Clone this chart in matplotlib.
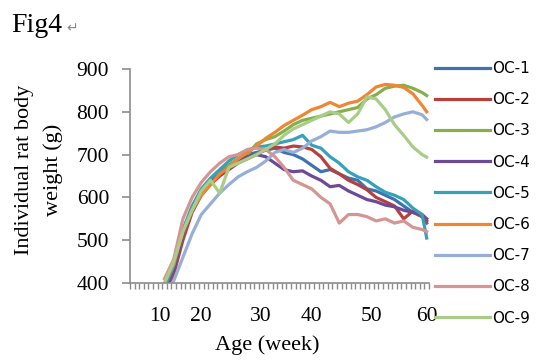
import numpy as np
import matplotlib
matplotlib.use('Agg')
import matplotlib.pyplot as plt

# category axis: 65 measurement slots, data recorded from slot 7 on
n_slots = 65
slots = list(range(7, 64, 2)) + [64]
age_slots = [6, 15, 28, 39, 52, 64]
age_labels = ['10', '20', '30', '40', '50', '60']

oc1 = [395, 440, 520, 575, 615, 640, 660, 675, 690, 700, 705, 710, 715, 705, 700,
       690, 675, 660, 665, 655, 645, 640, 620, 615, 605, 595, 580, 565, 555, 540]
oc2 = [380, 420, 500, 565, 605, 630, 650, 665, 680, 690, 700, 712, 718, 715, 720,
       718, 712, 695, 668, 655, 640, 630, 618, 600, 590, 580, 550, 568, 555, 545]
oc3 = [395, 440, 515, 570, 610, 635, 655, 675, 690, 700, 725, 735, 742, 755, 770,
       780, 785, 790, 795, 800, 805, 810, 830, 840, 855, 860, 862, 855, 845, 838]
oc4 = [385, 430, 515, 570, 610, 635, 655, 670, 685, 695, 700, 695, 680, 665, 660,
       662, 650, 640, 625, 628, 615, 605, 595, 590, 582, 578, 570, 565, 560, 550]
oc5 = [390, 440, 525, 580, 620, 645, 665, 685, 700, 710, 718, 720, 725, 730, 735,
       745, 722, 715, 695, 680, 660, 648, 640, 625, 612, 605, 595, 575, 560, 505]
oc6 = [400, 445, 520, 570, 605, 630, 655, 670, 690, 705, 720, 738, 752, 768, 780,
       792, 805, 812, 822, 812, 820, 825, 840, 858, 864, 862, 857, 842, 815, 800]
oc7 = [370, 405, 460, 515, 560, 585, 610, 630, 648, 660, 670, 685, 705, 712, 705,
       715, 732, 742, 755, 752, 752, 755, 758, 765, 775, 788, 795, 800, 793, 782]
oc8 = [410, 455, 550, 600, 635, 660, 680, 695, 700, 712, 715, 712, 695, 670, 640,
       630, 620, 600, 585, 540, 560, 560, 555, 545, 550, 540, 545, 530, 525, 520]
oc9 = [400, 450, 520, 570, 615, 640, 610, 670, 680, 690, 700, 712, 725, 745, 760,
       770, 780, 790, 800, 795, 775, 795, 835, 830, 805, 770, 745, 718, 700, 694]

series = [oc1, oc2, oc3, oc4, oc5, oc6, oc7, oc8, oc9]
names = ['OC-1', 'OC-2', 'OC-3', 'OC-4', 'OC-5', 'OC-6', 'OC-7', 'OC-8', 'OC-9']
colors = ['#3F72AF', '#B8403C', '#86AE4A', '#6C4A96', '#36A2BA',
          '#EE8632', '#97AFD8', '#D59592', '#A9CD88']

serif = ['Liberation Serif', 'DejaVu Serif']

fig = plt.figure(figsize=(5.38, 3.6), dpi=100)
ax = fig.add_axes([130 / 538, 1 - 283 / 360, 299 / 538, 214 / 360])

for vals, name, c in zip(series, names, colors):
    ax.plot(slots, vals, color=c, lw=2.3, label=name, solid_joinstyle='round')

ax.set_xlim(-0.5, n_slots - 0.5)
ax.set_ylim(400, 900)
ax.set_yticks(np.arange(400, 901, 100))
ax.set_xticks(age_slots)
ax.set_xticklabels(age_labels)
ax.set_xticks(np.arange(-0.5, n_slots, 1), minor=True)

for s in ['top', 'right']:
    ax.spines[s].set_visible(False)
for s in ['left', 'bottom']:
    ax.spines[s].set_color('#8C8C8C')
    ax.spines[s].set_linewidth(1.2)

ax.tick_params(axis='y', length=6, width=1.2, color='#8C8C8C', pad=9)
ax.tick_params(axis='x', which='major', length=0, pad=17)
ax.tick_params(axis='x', which='minor', length=4, width=1, color='#8C8C8C')
for lab in ax.get_xticklabels() + ax.get_yticklabels():
    lab.set_family(serif)
    lab.set_fontsize(15.5)

fig.text(267 / 538, 1 - 345 / 360, 'Age (week)', family=serif, fontsize=16,
         ha='center', va='center')
fig.text(39 / 538, 1 - 170 / 360, 'Individual rat body\nweight (g)', family=serif,
         fontsize=16, rotation=90, ha='center', va='center', linespacing=1.6)
fig.text(11 / 538, 1 - 25 / 360, 'Fig4', family=serif, fontsize=20,
         ha='left', va='center')
fig.text(66 / 538, 1 - 28 / 360, '\u21b5', family=['DejaVu Sans'], fontsize=10,
         color='#888888', ha='left', va='center')

fig.legend(loc='upper left', bbox_to_anchor=(435 / 538, 1 - 61 / 360),
           frameon=False, prop={'family': 'DejaVu Sans', 'size': 11},
           handlelength=3.6, handletextpad=0.15, labelspacing=1.06,
           borderaxespad=0, borderpad=0)

fig.savefig('out.png', dpi=100)
